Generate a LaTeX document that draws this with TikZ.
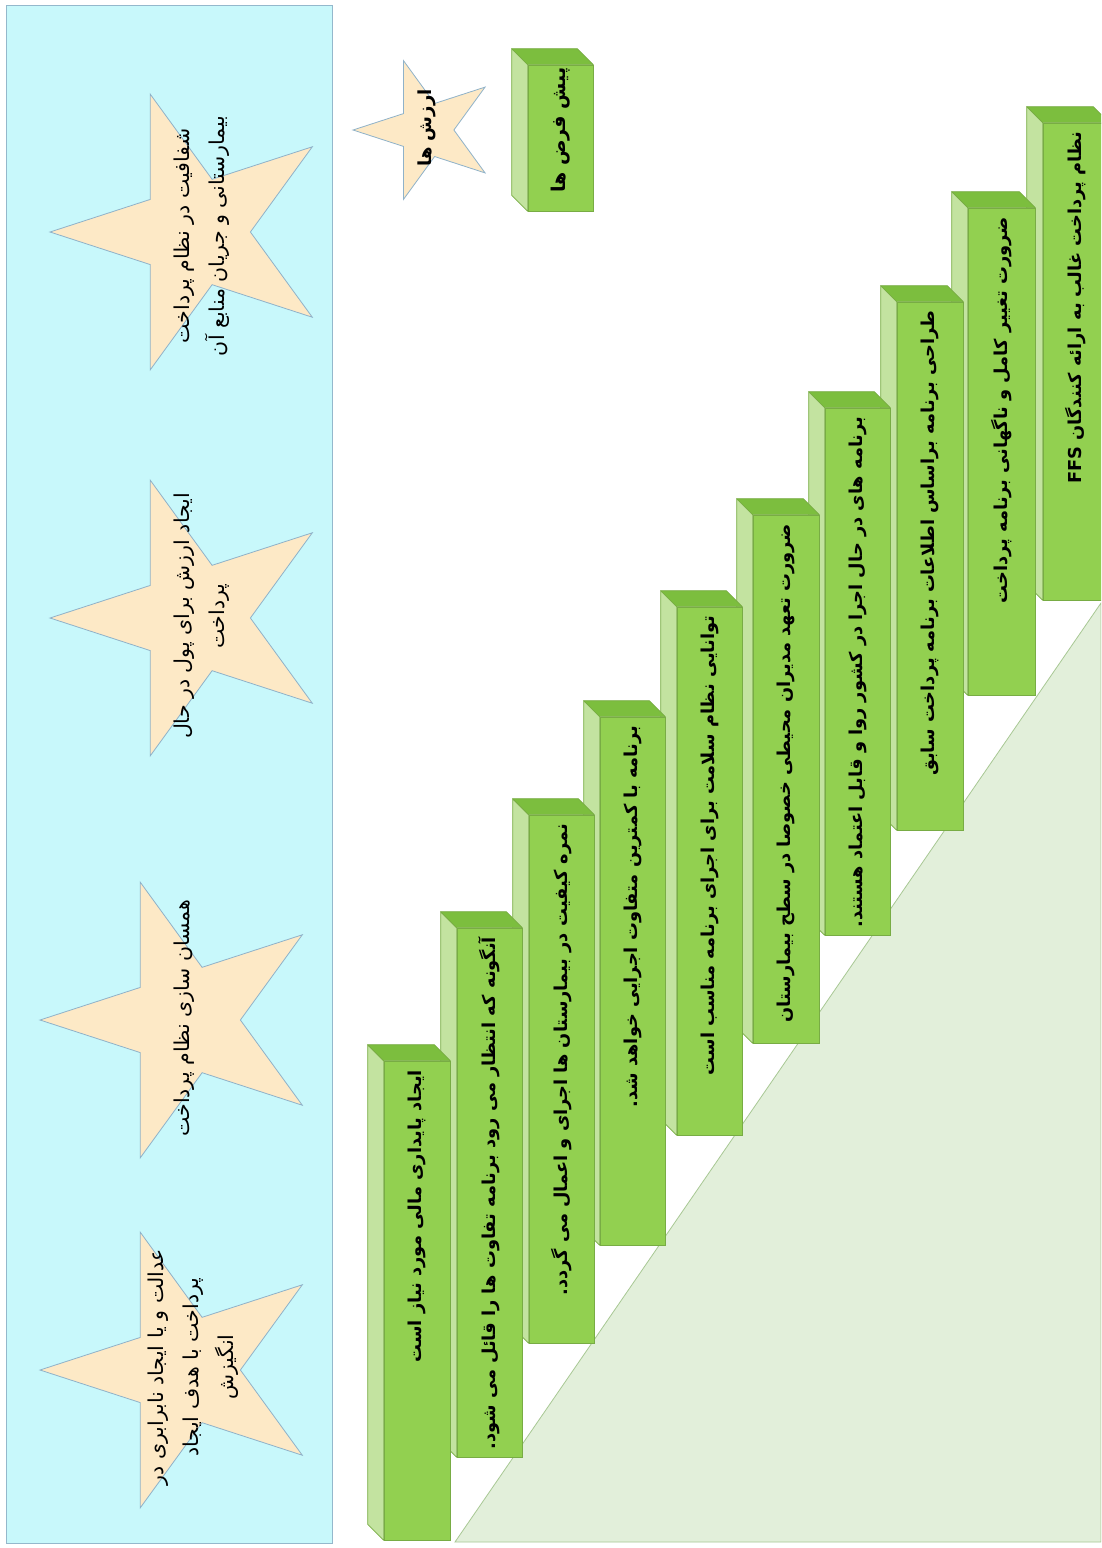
\documentclass[tikz,border=0pt]{standalone}
\usepackage{fontspec}
\usetikzlibrary{shapes.geometric}
\TeXXeTstate=1
\newfontfamily\fa[Script=Arabic]{DejaVu Sans}
\definecolor{panel}{HTML}{C8F8FB}
\definecolor{panelline}{HTML}{94B8CC}
\definecolor{starfill}{HTML}{FDE9C6}
\definecolor{starline}{HTML}{8FB2C9}
\definecolor{frontc}{HTML}{92D050}
\definecolor{topc}{HTML}{7CBE3E}
\definecolor{sidec}{HTML}{C3E3A0}
\definecolor{boxline}{HTML}{78AC44}
\definecolor{trif}{HTML}{E2EFDA}
\definecolor{triline}{HTML}{A8C894}
\tikzset{
  frontface/.style={draw=boxline, fill=frontc, line width=0.7pt, inner sep=0pt, rectangle},
  sideface/.style={draw=boxline, fill=sidec, line width=0.7pt, line join=round},
  topface/.style={draw=boxline, fill=topc, line width=0.7pt, line join=round},
  boxtext/.style={rotate=90, anchor=east, inner sep=0pt, font=\fa\bfseries\fontsize{17.8}{22}\selectfont},
  bigstar/.style={star, star points=5, star point ratio=2.618, shape border rotate=90,
     minimum size=290pt, inner sep=0pt, draw=starline, fill=starfill, line width=0.8pt},
  smallstar/.style={bigstar, minimum size=146pt},
  startext/.style={rotate=90, align=center, inner sep=0pt, font=\fa\fontsize{20.5}{35}\selectfont},
}
\newcommand\stepbox[6]{%
  \node[frontface, minimum width={#3-#2}, minimum height={#5-#4}] (#1) at ({(#2+#3)/2},{(#4+#5)/2}) {};
  \filldraw[sideface] (#1.north west) -- ++(-16,-16) -- ([shift={(-16,-16)}]#1.south west) -- (#1.south west) -- cycle;
  \filldraw[topface] (#1.north west) -- ++(-16,-16) -- ([shift={(-16,-16)}]#1.north east) -- (#1.north east) -- cycle;
  \node[boxtext] (#1t) at ([yshift=-9pt]#1.north) {#6};
}
\begin{document}
\begin{tikzpicture}[x=1pt,y=-1pt]
\useasboundingbox (0,0) rectangle (1101,1548);
\clip (0,0) rectangle (1101,1548);
\fill[white] (0,0) rectangle (1101,1548);
% panel
\node[draw=panelline, fill=panel, line width=0.8pt, minimum width=326pt, minimum height=1538pt, inner sep=0pt] (panel) at (169,774) {};
% stars
\node[bigstar] (s1) at (195,232) {};
\node[startext] (s1t) at (202,236) {\beginR شفافیت در نظام پرداخت\endR\\\beginR بیمارستانی و جریان منابع آن\endR};
\node[bigstar] (s2) at (195,618) {};
\node[startext] (s2t) at (202,616) {\beginR ایجاد ارزش برای پول در حال\endR\\\beginR پرداخت\endR};
\node[bigstar] (s3) at (185,1020) {};
\node[startext] (s3t) at (184,1018) {\beginR همسان سازی نظام پرداخت\endR};
\node[bigstar] (s4) at (185,1370) {};
\node[startext] (s4t) at (193,1367) {\beginR عدالت و یا ایجاد نابرابری در\endR\\\beginR پرداخت با هدف ایجاد\endR\\\beginR انگیزش\endR};
% small star and box
\node[smallstar] (vs) at (426,130) {};
\node[startext, font=\fa\bfseries\fontsize{18}{22}\selectfont] (vst) at (427,128) {\beginR ارزش ها\endR};
\stepbox{pf}{528}{593}{65}{211}{}
\node[rotate=90, inner sep=0pt, font=\fa\bfseries\fontsize{19}{22}\selectfont] (pft) at (561,130) {\beginR پیش فرض ها\endR};
% triangle
\coordinate (ta) at (455,1542);
\coordinate (tb) at (1101,1542);
\coordinate (tc) at (1101,603);
\filldraw[fill=trif, draw=triline, line width=0.8pt] (ta) -- (tb) -- (tc) -- cycle;
% staircase boxes (right to left)
\stepbox{b1}{1043}{1109}{123}{600}{\beginR نظام پرداخت غالب به ارائه کنندگان FFS\endR}
\stepbox{b2}{968}{1035}{208}{695}{\beginR ضرورت تغییر کامل و ناگهانی برنامه پرداخت\endR}
\stepbox{b3}{897}{963}{302}{830}{\beginR طراحی برنامه براساس اطلاعات برنامه پرداخت سابق\endR}
\stepbox{b4}{825}{890}{408}{935}{\beginR برنامه های در حال اجرا در کشور روا و قابل اعتماد هستند.\endR}
\stepbox{b5}{753}{819}{515}{1043}{\beginR ضرورت تعهد مدیران محیطی خصوصا در سطح بیمارستان\endR}
\stepbox{b6}{677}{742}{607}{1135}{\beginR توانایی نظام سلامت برای اجرای برنامه مناسب است\endR}
\stepbox{b7}{600}{665}{717}{1245}{\beginR برنامه با کمترین متفاوت اجرایی خواهد شد.\endR}
\stepbox{b8}{529}{594}{815}{1343}{\beginR نمره کیفیت در بیمارستان ها اجرای و اعمال می گردد.\endR}
\stepbox{b9}{457}{522}{928}{1457}{\beginR آنگونه که انتظار می رود برنامه تفاوت ها را قائل می شود.\endR}
\stepbox{b10}{384}{450}{1061}{1540}{\beginR ایجاد پایداری مالی مورد نیاز است\endR}
\end{tikzpicture}
\end{document}
